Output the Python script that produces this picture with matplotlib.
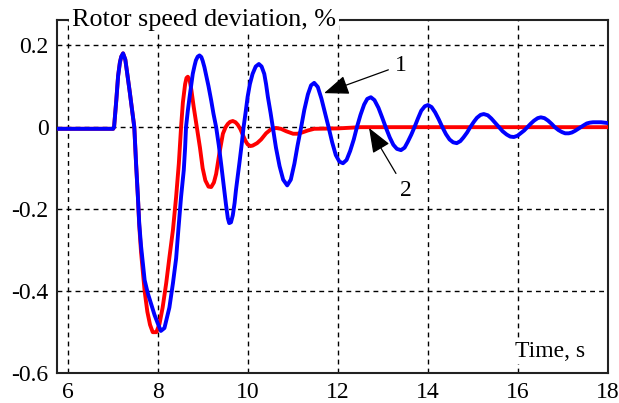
import matplotlib.pyplot as plt

# values
# curve 1 (blue)
t1 = [5.75, 7.0, 7.02, 7.07, 7.11, 7.15, 7.18, 7.22, 7.27, 7.32, 7.37, 7.42, 7.47,
      7.51, 7.55, 7.58, 7.62, 7.7, 7.77, 7.84, 7.92, 7.99, 8.06, 8.14, 8.25, 8.33,
      8.4, 8.45, 8.51, 8.57, 8.6, 8.62, 8.66, 8.7, 8.74, 8.77, 8.81, 8.84, 8.88,
      8.92, 8.96, 8.99, 9.03, 9.07, 9.12, 9.18, 9.23, 9.29, 9.35, 9.4, 9.46, 9.51,
      9.55, 9.58, 9.62, 9.66, 9.7, 9.73, 9.77, 9.81, 9.86, 9.9, 9.95, 9.99, 10.04,
      10.1, 10.17, 10.24, 10.3, 10.36, 10.4, 10.44, 10.5, 10.55, 10.62, 10.7,
      10.78, 10.87, 10.95, 11.03, 11.1, 11.18, 11.25, 11.33, 11.4, 11.47, 11.55,
      11.63, 11.71, 11.79, 11.87, 11.95, 12.03, 12.11, 12.19, 12.27, 12.35, 12.42,
      12.5, 12.58, 12.65, 12.73, 12.81, 12.9, 12.98, 13.06, 13.15, 13.23, 13.31,
      13.4, 13.48, 13.55, 13.63, 13.7, 13.78, 13.85, 13.93, 14.0, 14.08, 14.16,
      14.24, 14.32, 14.4, 14.48, 14.56, 14.64, 14.72, 14.79, 14.87, 14.94, 15.02,
      15.09, 15.17, 15.24, 15.33, 15.41, 15.5, 15.58, 15.66, 15.75, 15.83, 15.91,
      15.99, 16.06, 16.14, 16.21, 16.29, 16.36, 16.44, 16.51, 16.59, 16.67, 16.75,
      16.82, 16.9, 16.98, 17.05, 17.13, 17.2, 17.27, 17.34, 17.4, 17.47, 17.53,
      17.6, 17.67, 17.76, 17.85, 17.93, 18.0]
w1 = [-0.004, -0.004, 0.0, 0.066, 0.125, 0.158, 0.172, 0.18, 0.165, 0.125, 0.085, 0.042, 0.0,
      -0.09, -0.17, -0.235, -0.29, -0.373, -0.405, -0.43, -0.458, -0.478, -0.497, -0.49, -0.44, -0.38,
      -0.32, -0.25, -0.17, -0.105, -0.05, 0.0, 0.04, 0.074, 0.105, 0.13, 0.15, 0.163, 0.172,
      0.175, 0.171, 0.162, 0.146, 0.126, 0.1, 0.065, 0.033, 0.0, -0.045, -0.089, -0.145, -0.19,
      -0.222, -0.234, -0.232, -0.215, -0.185, -0.154, -0.12, -0.085, -0.04, 0.0, 0.04, 0.074, 0.105,
      0.13, 0.148, 0.154, 0.148, 0.13, 0.105, 0.074, 0.035, 0.0, -0.05, -0.095,
      -0.128, -0.142, -0.128, -0.089, -0.045, 0.0, 0.042, 0.08, 0.102, 0.108, 0.098,
      0.07, 0.035, 0.0, -0.037, -0.068, -0.084, -0.088, -0.08, -0.058, -0.03, 0.0,
      0.03, 0.055, 0.069, 0.073, 0.066, 0.047, 0.024, 0.0, -0.025, -0.043, -0.053,
      -0.056, -0.05, -0.036, -0.018, 0.0, 0.022, 0.04, 0.051, 0.054, 0.049, 0.036,
      0.019, 0.0, -0.017, -0.03, -0.037, -0.039, -0.034, -0.025, -0.013, 0.0, 0.013,
      0.023, 0.03, 0.032, 0.029, 0.021, 0.01, 0.0, -0.01, -0.018, -0.023, -0.024,
      -0.021, -0.015, -0.008, 0.0, 0.009, 0.016, 0.022, 0.024, 0.022, 0.016, 0.008,
      0.0, -0.007, -0.012, -0.015, -0.015, -0.013, -0.009, -0.004, 0.0, 0.005, 0.009,
      0.011, 0.012, 0.012, 0.012, 0.011, 0.01]

# curve 2 (red)
t2 = [5.75, 7.0, 7.02, 7.07, 7.11, 7.15, 7.18, 7.22, 7.27, 7.32, 7.37, 7.42, 7.47,
      7.51, 7.55, 7.58, 7.62, 7.7, 7.76, 7.82, 7.88, 7.96, 8.03, 8.1, 8.18, 8.25,
      8.33, 8.4, 8.46, 8.51, 8.55, 8.6, 8.63, 8.66, 8.7, 8.74, 8.79, 8.86, 8.93,
      8.99, 9.05, 9.12, 9.18, 9.24, 9.29, 9.36, 9.44, 9.5, 9.55, 9.6, 9.66, 9.72,
      9.77, 9.83, 9.88, 9.94, 9.99, 10.05, 10.1, 10.2, 10.29, 10.4, 10.51, 10.62,
      10.73, 10.85, 11.0, 11.1, 11.2, 11.33, 11.47, 12.0, 12.5, 18.0]
w2 = [-0.004, -0.004, 0.0, 0.066, 0.125, 0.158, 0.172, 0.18, 0.165, 0.125, 0.085, 0.042, 0.0,
      -0.09, -0.17, -0.24, -0.305, -0.4, -0.45, -0.482, -0.5, -0.5, -0.48, -0.44, -0.38, -0.318,
      -0.25, -0.17, -0.089, 0.0, 0.06, 0.105, 0.12, 0.123, 0.115, 0.09, 0.05, 0.0, -0.05,
      -0.1, -0.13, -0.145, -0.146, -0.135, -0.114, -0.065, -0.016, 0.0, 0.008, 0.013, 0.015, 0.012,
      0.006, -0.005, -0.018, -0.033, -0.042, -0.046, -0.045, -0.039, -0.03, -0.015, -0.005, -0.002,
      -0.004, -0.01, -0.016, -0.016, -0.013, -0.008, -0.004, -0.003, 0.0, 0.0]

xticks = [6, 8, 10, 12, 14, 16, 18]
yticks = [0.2, 0, -0.2, -0.4, -0.6]
ylabels = ["0.2", "0", "-0.2", "-0.4", "-0.6"]

plt.rcParams['font.family'] = ['Liberation Serif', 'DejaVu Serif']

fig = plt.figure(figsize=(6.19, 4.03), dpi=100)
ax = fig.add_axes([0.092, 0.074, 0.890, 0.876])

ax.plot(t2, w2, color=(1, 0, 0), lw=2.8, zorder=3)
ax.plot(t1, w1, color=(0, 0, 1), lw=2.8, zorder=4)

ax.set_xlim(5.75, 18.0)
ax.set_ylim(-0.6, 0.261)
ax.set_xticks(xticks)
ax.set_xticklabels([str(v) for v in xticks])
ax.set_yticks(yticks)
ax.set_yticklabels(ylabels)
ax.tick_params(length=0, labelsize=17, pad=6)

# dashed black grid
ax.grid(True, color='black', lw=1.0, linestyle=(0, (3.5, 3)))
for s in ax.spines.values():
    s.set_linewidth(1.5)
    s.set_color('#222222')

# title sitting on top of the frame
ax.text(0.027, 1.0, "Rotor speed deviation, %", transform=ax.transAxes,
        fontsize=18.8, ha='left', va='center', zorder=10, clip_on=False,
        bbox=dict(facecolor='white', edgecolor='none', pad=2))
ax.text(0.958, 0.06, "Time, s", transform=ax.transAxes, fontsize=17,
        ha='right', va='center', zorder=10,
        bbox=dict(facecolor='white', edgecolor='none', pad=1))

# curve labels with arrows
arrow = dict(arrowstyle='-|>,head_length=0.9,head_width=0.35', color='black',
             lw=0.9, shrinkA=3, shrinkB=0)
ax.annotate("1", xy=(11.69, 0.083), xytext=(13.4, 0.151), fontsize=17,
            ha='center', va='center', arrowprops=arrow, zorder=11)
ax.annotate("2", xy=(12.69, -0.002), xytext=(13.51, -0.154), fontsize=17,
            ha='center', va='center', arrowprops=arrow, zorder=11)

fig.savefig("out.png", dpi=100)
